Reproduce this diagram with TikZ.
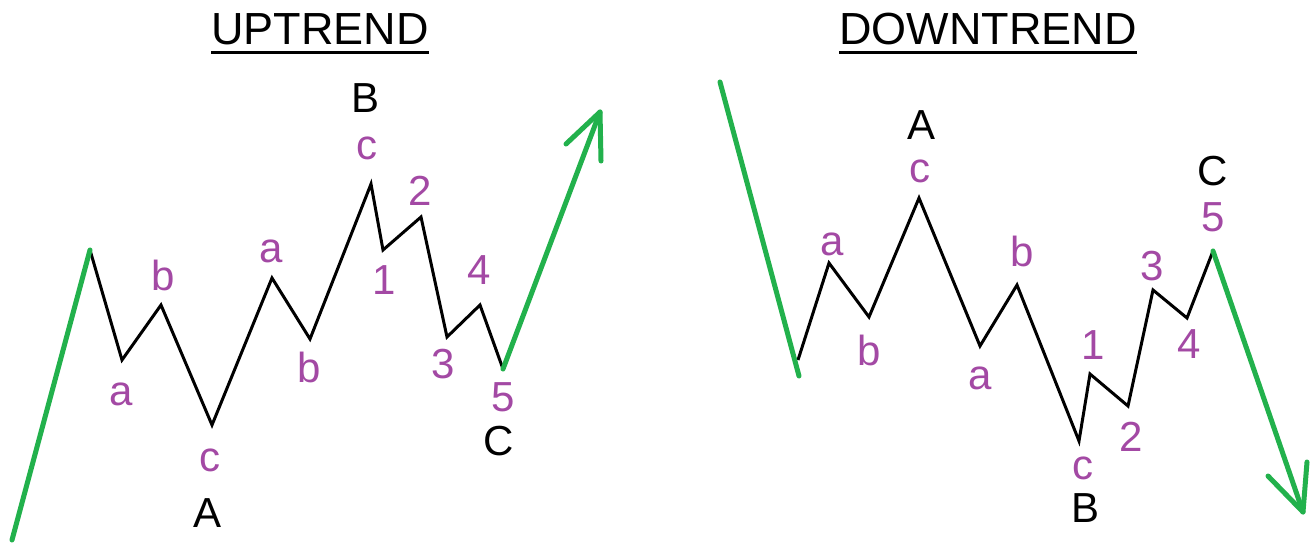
\documentclass[tikz,border=0pt]{standalone}
\usepackage{fontspec}
\setmainfont{Liberation Sans}
\definecolor{wgreen}{HTML}{22B14C}
\definecolor{wpurple}{HTML}{A349A4}
\tikzset{
  wave/.style={line width=3pt, black, line join=miter},
  trend/.style={line width=5pt, wgreen, line cap=round, line join=round},
  lab/.style={text=wpurple, font=\fontsize{42}{42}\selectfont, inner sep=0pt},
  biglab/.style={text=black, font=\fontsize{42}{42}\selectfont, inner sep=0pt},
  title/.style={text=black, font=\fontsize{45}{45}\selectfont, inner sep=0pt, anchor=base},
}
\begin{document}
\begin{tikzpicture}[x=1pt, y=-1pt]
\useasboundingbox[fill=white] (0,0) rectangle (1316,543);

% ---------- UPTREND ----------
\node[title] (ut) at (320,45) {UPTREND};
\draw[line width=3pt] ([yshift=-8pt]ut.base west) -- ([yshift=-8pt]ut.base east);

\coordinate (u0) at (12,540);
\coordinate (u1) at (90,250);
\coordinate (ua1) at (122,360);
\coordinate (ub1) at (161,305);
\coordinate (uc1) at (212,425);
\coordinate (ua2) at (272,278);
\coordinate (ub2) at (310,339);
\coordinate (uc2) at (371,184);
\coordinate (u1w) at (383,250);
\coordinate (u2w) at (421,217);
\coordinate (u3w) at (447,337);
\coordinate (u4w) at (480,305);
\coordinate (u5w) at (503,369);
\coordinate (utip) at (600,112);
\coordinate (uwl) at (566,144);
\coordinate (uwr) at (601,161);

\draw[wave] (u1) -- (ua1) -- (ub1) -- (uc1) -- (ua2) -- (ub2) -- (uc2)
  -- (u1w) -- (u2w) -- (u3w) -- (u4w) -- (u5w);
\draw[trend] (u0) -- (u1);
\draw[trend] (u5w) -- (utip);
\draw[trend] (uwl) -- (utip) -- (uwr);

\node[lab] (lua1) at (121,394) {a};
\node[lab] (lub1) at (163,275) {b};
\node[lab] (luc1) at (210,460) {c};
\node[biglab] (luA) at (208,513) {A};
\node[lab] (lua2) at (271,251) {a};
\node[lab] (lub2) at (309,367) {b};
\node[lab] (luc2) at (367,148) {c};
\node[biglab] (luB) at (366,98) {B};
\node[lab] (lu1) at (384,280) {1};
\node[lab] (lu2) at (420,191) {2};
\node[lab] (lu3) at (443,364) {3};
\node[lab] (lu4) at (479,270) {4};
\node[lab] (lu5) at (503,397) {5};
\node[biglab] (luC) at (499,441) {C};

% ---------- DOWNTREND ----------
\node[title] (dt) at (988,45) {DOWNTREND};
\draw[line width=3pt] ([yshift=-8pt]dt.base west) -- ([yshift=-8pt]dt.base east);

\coordinate (d0) at (720,82);
\coordinate (dg1) at (799,376);
\coordinate (d1) at (798,360);
\coordinate (da1) at (829,263);
\coordinate (db1) at (869,317);
\coordinate (dc1) at (919,198);
\coordinate (da2) at (980,346);
\coordinate (db2) at (1017,285);
\coordinate (dc2) at (1079,441);
\coordinate (d1w) at (1090,374);
\coordinate (d2w) at (1128,406);
\coordinate (d3w) at (1153,290);
\coordinate (d4w) at (1187,318);
\coordinate (d5w) at (1213,251);
\coordinate (dtip) at (1303,512);
\coordinate (dwl) at (1268,476);
\coordinate (dwr) at (1307,462);

\draw[wave] (d1) -- (da1) -- (db1) -- (dc1) -- (da2) -- (db2) -- (dc2)
  -- (d1w) -- (d2w) -- (d3w) -- (d4w) -- (d5w);
\draw[trend] (d0) -- (dg1);
\draw[trend] (d5w) -- (dtip);
\draw[trend] (dwl) -- (dtip) -- (dwr);

\node[lab] (lda1) at (832,244) {a};
\node[lab] (ldb1) at (869,350) {b};
\node[lab] (ldc1) at (920,171) {c};
\node[biglab] (ldA) at (921,125) {A};
\node[lab] (lda2) at (980,378) {a};
\node[lab] (ldb2) at (1022,251) {b};
\node[lab] (ldc2) at (1083,468) {c};
\node[biglab] (ldB) at (1085,508) {B};
\node[lab] (ld1) at (1093,345) {1};
\node[lab] (ld2) at (1131,437) {2};
\node[lab] (ld3) at (1152,266) {3};
\node[lab] (ld4) at (1189,344) {4};
\node[lab] (ld5) at (1213,217) {5};
\node[biglab] (ldC) at (1213,171) {C};
\end{tikzpicture}
\end{document}
